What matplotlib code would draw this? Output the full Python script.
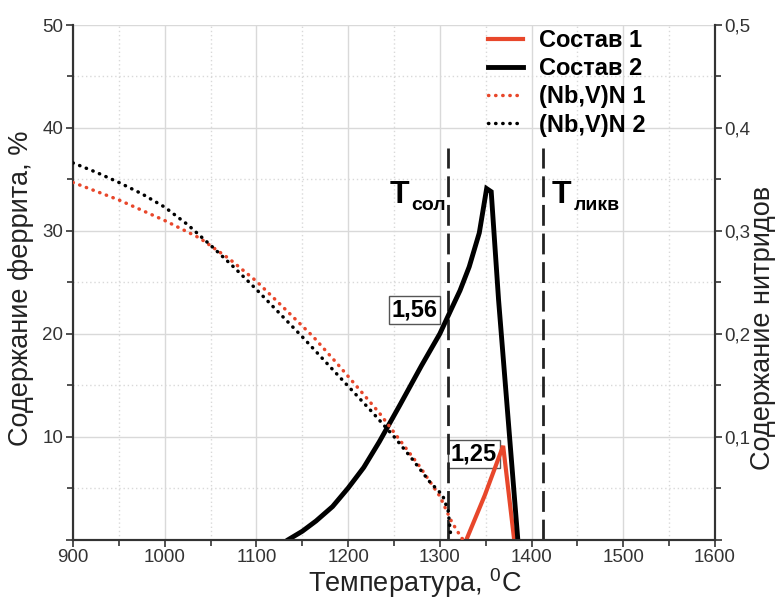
import matplotlib
matplotlib.use("Agg")
import matplotlib.pyplot as plt

plt.rcParams['font.family'] = ['Liberation Sans', 'DejaVu Sans']
plt.rcParams['mathtext.fontset'] = 'custom'
plt.rcParams['mathtext.rm'] = 'Liberation Sans'
plt.rcParams['mathtext.default'] = 'regular'

# ---- data ----
T_comp1 = [1329, 1349, 1369, 1381]
ferrite_comp1 = [0, 4.3, 9.1, 0]

T_comp2 = [1135, 1150, 1165, 1183, 1200, 1217, 1234, 1256, 1280, 1300, 1312,
           1322, 1332, 1343, 1351, 1356, 1364, 1385]
ferrite_comp2 = [0, 0.8, 1.8, 3.2, 5.0, 7.0, 9.5, 13.0, 16.9, 20.0, 22.3,
                 24.2, 26.5, 29.8, 34.1, 33.8, 23.3, 0]

T_nitr1 = [900, 950, 1000, 1038, 1070, 1100, 1130, 1162, 1188, 1213, 1234, 1256, 1278,
           1300, 1313, 1324, 1329]
nitr1 = [0.347, 0.330, 0.310, 0.293, 0.273, 0.251, 0.225, 0.197, 0.171, 0.145, 0.123,
         0.097, 0.071, 0.042, 0.017, 0.001, 0.0]

T_nitr2 = [900, 925, 950, 975, 1000, 1025, 1050, 1075, 1100, 1125, 1150, 1175, 1200,
           1225, 1250, 1270, 1289, 1303, 1309, 1312]
nitr2 = [0.366, 0.357, 0.347, 0.336, 0.323, 0.306, 0.286, 0.265, 0.243, 0.220, 0.197,
         0.173, 0.149, 0.125, 0.100, 0.078, 0.056, 0.043, 0.028, 0.003]

T_sol = 1309
T_liq = 1413
vline_top = 38

label_156 = "1,56"
label_156_pos = (1272.5, 22.3)
label_125 = "1,25"
label_125_pos = (1337, 8.3)

x_ticks = [900, 1000, 1100, 1200, 1300, 1400, 1500, 1600]
left_ticks = [0, 10, 20, 30, 40, 50]
left_ticklabels = ['', '10', '20', '30', '40', '50']
right_ticks = [0, 0.1, 0.2, 0.3, 0.4, 0.5]
right_ticklabels = ['', '0,1', '0,2', '0,3', '0,4', '0,5']

legend_labels = ['Состав 1', 'Состав 2', '(Nb,V)N 1', '(Nb,V)N 2']

RED = '#e8472b'
BLACK = '#000000'
SPINE = '#333333'

fig = plt.figure(figsize=(7.76, 6.04), dpi=100)
ax = fig.add_axes([73/776, 1-539.5/604, (715-73)/776, (539.5-25)/604])
ax2 = ax.twinx()

ax.set_xlim(900, 1600)
ax.set_ylim(0, 50)
ax2.set_ylim(0, 0.5)

ax.set_xticks(x_ticks)
ax.set_xticks(range(950, 1600, 100), minor=True)
ax.set_yticks(left_ticks)
ax.set_yticklabels(left_ticklabels)
ax.set_yticks(range(5, 50, 10), minor=True)
ax2.set_yticks(right_ticks)
ax2.set_yticklabels(right_ticklabels)
ax2.set_yticks([0.05, 0.15, 0.25, 0.35, 0.45], minor=True)

ax.grid(which='major', color='#d9d9d9', lw=1.0, ls='-')
ax.grid(which='minor', color='#d9d9d9', lw=1.0, ls=(0, (1, 2)))
ax.set_axisbelow(True)

for a in (ax, ax2):
    a.spines['top'].set_visible(False)
    for s in ('left', 'right', 'bottom'):
        a.spines[s].set_color(SPINE)
        a.spines[s].set_linewidth(1.5)
    a.tick_params(which='major', direction='out', length=5, width=1.2, color=SPINE,
                  labelsize=13.5, labelcolor='#333333', pad=2)
    a.tick_params(which='minor', direction='out', length=4, width=1.2, color=SPINE)

# vertical dashed lines
ax.vlines([T_sol, T_liq], 0, vline_top, colors='#222222', lw=2.0,
          linestyles=[(0, (7.5, 2.8))], zorder=3)

# solid lines
l1, = ax.plot(T_comp1, ferrite_comp1, color=RED, lw=3.0, solid_joinstyle='miter', zorder=4)
l2, = ax.plot(T_comp2, ferrite_comp2, color=BLACK, lw=3.5, solid_joinstyle='miter', zorder=4)

# nitride dotted lines
dot = (0, (0.1, 1.95))
n1, = ax2.plot(T_nitr1, nitr1, color=RED, lw=2.5, ls=dot, dash_capstyle='round', zorder=3)
n2, = ax2.plot(T_nitr2, nitr2, color=BLACK, lw=2.5, ls=dot, dash_capstyle='round', zorder=3)

# labels in boxes
box = dict(boxstyle='square,pad=0.12', fc='white', ec='#555555', lw=1.0)
ax.text(*label_156_pos, label_156, fontsize=17, fontweight='bold', ha='center', va='center',
        bbox=box, zorder=2)
ax.text(*label_125_pos, label_125, fontsize=17, fontweight='bold', ha='center', va='center',
        bbox=box, zorder=2)

# T labels
ax.text(1245, 32.7, 'T', fontsize=23, fontweight='bold', ha='left', va='baseline')
ax.text(1269, 32.0, 'сол', fontsize=14, fontweight='bold', ha='left', va='baseline')
ax.text(1422, 32.7, 'T', fontsize=23, fontweight='bold', ha='left', va='baseline')
ax.text(1446, 32.0, 'ликв', fontsize=14, fontweight='bold', ha='left', va='baseline')

# axis labels
ax.set_xlabel('Температура, $^0$C', fontsize=19.5, color='#222222')
ax.xaxis.set_label_coords(0.533, -0.052)
ax.set_ylabel('Содержание феррита, %', fontsize=19.5, color='#222222')
ax.yaxis.set_label_coords(-0.060, 0.489)
ax2.set_ylabel('Содержание нитридов', fontsize=19.5, color='#222222', rotation=90)
ax2.yaxis.set_label_coords(1.054, 0.411)

# legend
handles = [l1, l2, n1, n2]
leg = ax2.legend(handles, legend_labels, loc='upper left',
                 bbox_to_anchor=(488/776, 1-29/604), bbox_transform=fig.transFigure,
                 frameon=False, borderpad=0, borderaxespad=0,
                 handlelength=1.5, handletextpad=0.65, labelspacing=0.22,
                 prop={'size': 17, 'weight': 'bold'})

fig.savefig('out.png', dpi=100)
